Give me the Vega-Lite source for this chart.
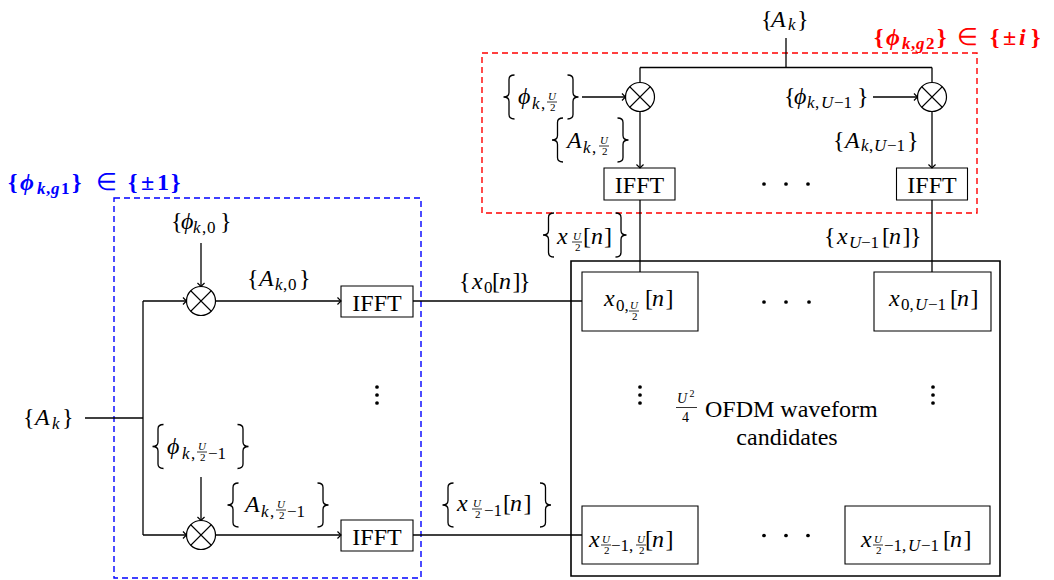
{
  "$schema": "https://vega.github.io/schema/vega-lite/v6.json",
  "width": 1054,
  "height": 580,
  "padding": 0,
  "autosize": {"type": "fit", "contains": "padding"},
  "background": "white",
  "config": {"view": {"stroke": null}, "text": {"font": "Liberation Serif"}},
  "datasets": {
    "groups": [
      {"g": "g2", "x": 482, "y": 53, "x2": 977, "y2": 213},
      {"g": "g1", "x": 114, "y": 198, "x2": 421, "y2": 578}
    ],
    "frame": [{"x": 571, "y": 261, "x2": 1000, "y2": 576}],
    "lines": [
      {"x": 786, "y": 38, "x2": 786, "y2": 67.5},
      {"x": 640, "y": 67.5, "x2": 932, "y2": 67.5},
      {"x": 640, "y": 67.5, "x2": 640, "y2": 82.5},
      {"x": 932, "y": 67.5, "x2": 932, "y2": 82.5},
      {"x": 582, "y": 97, "x2": 625.5, "y2": 97},
      {"x": 873, "y": 97, "x2": 917.5, "y2": 97},
      {"x": 640, "y": 111.5, "x2": 640, "y2": 168},
      {"x": 932, "y": 111.5, "x2": 932, "y2": 168},
      {"x": 640, "y": 200, "x2": 640, "y2": 272},
      {"x": 932, "y": 200, "x2": 932, "y2": 272},
      {"x": 85, "y": 418, "x2": 143, "y2": 418},
      {"x": 143, "y": 301, "x2": 143, "y2": 535},
      {"x": 143, "y": 301, "x2": 186.5, "y2": 301},
      {"x": 143, "y": 535, "x2": 186.5, "y2": 535},
      {"x": 201, "y": 243, "x2": 201, "y2": 286.5},
      {"x": 201, "y": 477, "x2": 201, "y2": 520.5},
      {"x": 215.5, "y": 301, "x2": 341, "y2": 301},
      {"x": 215.5, "y": 535, "x2": 341, "y2": 535},
      {"x": 413, "y": 301, "x2": 582, "y2": 301},
      {"x": 413, "y": 535, "x2": 582, "y2": 535}
    ],
    "blocks": [
      {"x": 604, "y": 168, "x2": 675, "y2": 200},
      {"x": 896.5, "y": 168, "x2": 967.5, "y2": 200},
      {"x": 341, "y": 286, "x2": 413, "y2": 317},
      {"x": 341, "y": 520, "x2": 413, "y2": 551},
      {"x": 582, "y": 272, "x2": 698, "y2": 331},
      {"x": 874, "y": 272, "x2": 991, "y2": 331},
      {"x": 582, "y": 506, "x2": 698, "y2": 564},
      {"x": 845, "y": 506, "x2": 990, "y2": 564}
    ],
    "mixers": [
      {"x": 201, "y": 301}, {"x": 201, "y": 535}, {"x": 640, "y": 97}, {"x": 932, "y": 97}
    ],
    "tipsRight": [
      {"x": 186.5, "y": 301}, {"x": 186.5, "y": 535}, {"x": 341, "y": 301},
      {"x": 341, "y": 535}, {"x": 625.5, "y": 97}, {"x": 917.5, "y": 97}
    ],
    "tipsDown": [
      {"x": 201, "y": 286.5}, {"x": 201, "y": 520.5}, {"x": 640, "y": 168}, {"x": 932, "y": 168}
    ],
    "dots": [
      {"x": 764, "y": 184}, {"x": 786, "y": 184}, {"x": 808, "y": 184},
      {"x": 764, "y": 302}, {"x": 786, "y": 302}, {"x": 809, "y": 302},
      {"x": 764, "y": 535.5}, {"x": 786, "y": 535.5}, {"x": 808, "y": 535.5},
      {"x": 377, "y": 387}, {"x": 377, "y": 395}, {"x": 377, "y": 403},
      {"x": 640, "y": 387}, {"x": 640, "y": 395}, {"x": 640, "y": 403},
      {"x": 933, "y": 387}, {"x": 933, "y": 395}, {"x": 933, "y": 403}
    ],
    "braceL": [
      {"x": 509, "y": 97}, {"x": 557.5, "y": 140}, {"x": 548.5, "y": 235},
      {"x": 158, "y": 446.5}, {"x": 233, "y": 505}, {"x": 448, "y": 505}
    ],
    "braceR": [
      {"x": 573, "y": 97}, {"x": 623, "y": 140}, {"x": 621, "y": 235},
      {"x": 243, "y": 446.5}, {"x": 323, "y": 505}, {"x": 545.5, "y": 505}
    ],
    "fracBars": [
      {"x": 547, "x2": 557, "y": 102}, {"x": 599, "x2": 609, "y": 146},
      {"x": 572, "x2": 582, "y": 242}, {"x": 629, "x2": 639, "y": 311},
      {"x": 197, "x2": 207, "y": 452}, {"x": 276, "x2": 286, "y": 510},
      {"x": 472, "x2": 482, "y": 509}, {"x": 601, "x2": 611, "y": 545},
      {"x": 636, "x2": 646, "y": 545}, {"x": 873, "x2": 883, "y": 545},
      {"x": 676, "x2": 697, "y": 407.5}
    ],
    "fracNum": [
      {"x": 548, "y": 99.5, "t": "U"}, {"x": 600, "y": 143.5, "t": "U"},
      {"x": 573, "y": 239.5, "t": "U"}, {"x": 630, "y": 308.5, "t": "U"},
      {"x": 198, "y": 449.5, "t": "U"}, {"x": 277, "y": 507.5, "t": "U"},
      {"x": 473, "y": 506.5, "t": "U"}, {"x": 602, "y": 542.5, "t": "U"},
      {"x": 637, "y": 542.5, "t": "U"}, {"x": 874, "y": 542.5, "t": "U"}
    ],
    "fracDen": [
      {"x": 550, "y": 110.5, "t": "2"}, {"x": 602, "y": 154.5, "t": "2"},
      {"x": 575, "y": 250.5, "t": "2"}, {"x": 632, "y": 319.5, "t": "2"},
      {"x": 200, "y": 460.5, "t": "2"}, {"x": 279, "y": 518.5, "t": "2"},
      {"x": 475, "y": 517.5, "t": "2"}, {"x": 604, "y": 553.5, "t": "2"},
      {"x": 639, "y": 553.5, "t": "2"}, {"x": 876, "y": 553.5, "t": "2"}
    ],
    "bigNum": [{"x": 677, "y": 403, "t": "U"}],
    "bigDen": [{"x": 682, "y": 422, "t": "4"}],
    "sup": [{"x": 689.5, "y": 397, "t": "2"}],
    "rm": [
      {"x": 761, "y": 26.5, "t": "{"}, {"x": 797, "y": 26.5, "t": "}"},
      {"x": 23, "y": 425, "t": "{"}, {"x": 62, "y": 425, "t": "}"},
      {"x": 784, "y": 104, "t": "{"}, {"x": 857, "y": 104, "t": "}"},
      {"x": 833, "y": 147.5, "t": "{"}, {"x": 907, "y": 147.5, "t": "}"},
      {"x": 824, "y": 244, "t": "{"}, {"x": 882, "y": 244, "t": "["}, {"x": 902.5, "y": 244, "t": "]"}, {"x": 910, "y": 244, "t": "}"},
      {"x": 583, "y": 244, "t": "["}, {"x": 604, "y": 244, "t": "]"},
      {"x": 459, "y": 289, "t": "{"}, {"x": 492, "y": 289, "t": "["}, {"x": 512.5, "y": 289, "t": "]"}, {"x": 519, "y": 289, "t": "}"},
      {"x": 645, "y": 306, "t": "["}, {"x": 665.5, "y": 306, "t": "]"},
      {"x": 950, "y": 306, "t": "["}, {"x": 970.5, "y": 306, "t": "]"},
      {"x": 645, "y": 547, "t": "["}, {"x": 665.5, "y": 547, "t": "]"},
      {"x": 943, "y": 547, "t": "["}, {"x": 963.5, "y": 547, "t": "]"},
      {"x": 171, "y": 229, "t": "{"}, {"x": 220, "y": 229, "t": "}"},
      {"x": 247, "y": 286, "t": "{"}, {"x": 299, "y": 286, "t": "}"},
      {"x": 503, "y": 511, "t": "["}, {"x": 523.5, "y": 511, "t": "]"},
      {"x": 705, "y": 416.5, "t": "OFDM waveform"}
    ],
    "it": [
      {"x": 771, "y": 26.5, "t": "A"},
      {"x": 35, "y": 425, "t": "A"},
      {"x": 518, "y": 104, "t": "ϕ"},
      {"x": 567, "y": 148, "t": "A"},
      {"x": 794, "y": 104, "t": "ϕ"},
      {"x": 845, "y": 147.5, "t": "A"},
      {"x": 557, "y": 244, "t": "x"}, {"x": 591, "y": 244, "t": "n"},
      {"x": 837, "y": 244, "t": "x"}, {"x": 889, "y": 244, "t": "n"},
      {"x": 472, "y": 289, "t": "x"}, {"x": 499, "y": 289, "t": "n"},
      {"x": 604, "y": 306, "t": "x"}, {"x": 652, "y": 306, "t": "n"},
      {"x": 889, "y": 306, "t": "x"}, {"x": 957, "y": 306, "t": "n"},
      {"x": 589, "y": 547, "t": "x"}, {"x": 652, "y": 547, "t": "n"},
      {"x": 861, "y": 547, "t": "x"}, {"x": 950, "y": 547, "t": "n"},
      {"x": 181, "y": 229, "t": "ϕ"},
      {"x": 259, "y": 286, "t": "A"},
      {"x": 167, "y": 454, "t": "ϕ"},
      {"x": 245, "y": 512, "t": "A"},
      {"x": 457, "y": 511, "t": "x"}, {"x": 510, "y": 511, "t": "n"}
    ],
    "subIt": [
      {"x": 788, "y": 30, "t": "k"},
      {"x": 52, "y": 428.5, "t": "k"},
      {"x": 532, "y": 109, "t": "k"},
      {"x": 583, "y": 153, "t": "k"},
      {"x": 807, "y": 107.5, "t": "k"}, {"x": 821, "y": 107.5, "t": "U"},
      {"x": 861, "y": 151, "t": "k"}, {"x": 874, "y": 151, "t": "U"},
      {"x": 849, "y": 247.5, "t": "U"},
      {"x": 915, "y": 310, "t": "U"},
      {"x": 908, "y": 550.5, "t": "U"},
      {"x": 193, "y": 232.5, "t": "k"},
      {"x": 275, "y": 289.5, "t": "k"},
      {"x": 182, "y": 459, "t": "k"},
      {"x": 261, "y": 517, "t": "k"}
    ],
    "subRm": [
      {"x": 541, "y": 109, "t": ","},
      {"x": 592, "y": 153, "t": ","},
      {"x": 815, "y": 107.5, "t": ","}, {"x": 834, "y": 107.5, "t": "−1"},
      {"x": 869, "y": 151, "t": ","}, {"x": 887, "y": 151, "t": "−1"},
      {"x": 861, "y": 247.5, "t": "−1"},
      {"x": 616, "y": 311, "t": "0,"},
      {"x": 901, "y": 310, "t": "0,"}, {"x": 928, "y": 310, "t": "−1"},
      {"x": 611, "y": 550.5, "t": "−1,"},
      {"x": 884, "y": 550.5, "t": "−1,"}, {"x": 921, "y": 550.5, "t": "−1"},
      {"x": 202, "y": 232.5, "t": ","}, {"x": 207, "y": 232.5, "t": "0"},
      {"x": 283, "y": 289.5, "t": ","}, {"x": 288, "y": 289.5, "t": "0"},
      {"x": 484, "y": 292.5, "t": "0"},
      {"x": 191, "y": 459, "t": ","}, {"x": 208, "y": 459, "t": "−1"},
      {"x": 270, "y": 517, "t": ","}, {"x": 287, "y": 517, "t": "−1"},
      {"x": 484, "y": 516, "t": "−1"}
    ],
    "centered": [
      {"x": 639.5, "y": 192.5, "t": "IFFT"},
      {"x": 932, "y": 192.5, "t": "IFFT"},
      {"x": 377, "y": 310.5, "t": "IFFT"},
      {"x": 377, "y": 544.5, "t": "IFFT"},
      {"x": 787, "y": 445, "t": "candidates"}
    ],
    "boldRm": [
      {"g": "g2", "x": 874, "y": 45, "t": "{"}, {"g": "g2", "x": 937, "y": 45, "t": "}"},
      {"g": "g2", "x": 990, "y": 45, "t": "{"}, {"g": "g2", "x": 1003, "y": 45, "t": "±"},
      {"g": "g2", "x": 1031, "y": 45, "t": "}"},
      {"g": "g1", "x": 8, "y": 190, "t": "{"}, {"g": "g1", "x": 72, "y": 190, "t": "}"},
      {"g": "g1", "x": 128, "y": 190, "t": "{"}, {"g": "g1", "x": 141, "y": 190, "t": "±"},
      {"g": "g1", "x": 157, "y": 190, "t": "1"}, {"g": "g1", "x": 171, "y": 190, "t": "}"}
    ],
    "boldIt": [
      {"g": "g2", "x": 886, "y": 45, "t": "ϕ"}, {"g": "g2", "x": 1019, "y": 45, "t": "i"},
      {"g": "g1", "x": 20, "y": 190, "t": "ϕ"}
    ],
    "boldSubIt": [
      {"g": "g2", "x": 902, "y": 49, "t": "k"}, {"g": "g2", "x": 916, "y": 49, "t": "g"},
      {"g": "g1", "x": 37, "y": 194, "t": "k"}, {"g": "g1", "x": 51, "y": 194, "t": "g"}
    ],
    "boldSubRm": [
      {"g": "g2", "x": 911, "y": 49, "t": ","}, {"g": "g2", "x": 926, "y": 49, "t": "2"},
      {"g": "g1", "x": 46, "y": 194, "t": ","}, {"g": "g1", "x": 61, "y": 194, "t": "1"}
    ],
    "relation": [
      {"g": "g2", "x": 957, "y": 45, "t": "∈"},
      {"g": "g1", "x": 96, "y": 190, "t": "∈"}
    ]
  },
  "encoding": {
    "x": {"field": "x", "type": "quantitative", "scale": {"domain": [0, 1054], "nice": false, "zero": false}, "axis": null},
    "y": {"field": "y", "type": "quantitative", "scale": {"domain": [0, 580], "nice": false, "zero": false, "reverse": true}, "axis": null}
  },
  "layer": [
    {
      "data": {"name": "groups"},
      "mark": {"type": "rect", "filled": false, "strokeDash": [6, 4], "strokeWidth": 1.4},
      "encoding": {
        "x2": {"field": "x2"}, "y2": {"field": "y2"},
        "color": {"field": "g", "type": "nominal", "scale": {"domain": ["g1", "g2"], "range": ["#0000ff", "#ff0000"]}, "legend": null}
      }
    },
    {
      "data": {"name": "frame"},
      "mark": {"type": "rect", "fill": "white", "stroke": "black", "strokeWidth": 1.6},
      "encoding": {"x2": {"field": "x2"}, "y2": {"field": "y2"}}
    },
    {
      "data": {"name": "lines"},
      "mark": {"type": "rule", "color": "black", "strokeWidth": 1.3},
      "encoding": {"x2": {"field": "x2"}, "y2": {"field": "y2"}}
    },
    {
      "data": {"name": "blocks"},
      "mark": {"type": "rect", "fill": "white", "stroke": "black", "strokeWidth": 1.1},
      "encoding": {"x2": {"field": "x2"}, "y2": {"field": "y2"}}
    },
    {
      "data": {"name": "mixers"},
      "mark": {"type": "point", "shape": "circle", "size": 841, "filled": true, "fill": "white", "stroke": "black", "strokeWidth": 1.2, "opacity": 1},
      "encoding": {}
    },
    {
      "data": {"name": "mixers"},
      "mark": {"type": "point", "shape": "M-0.7071,-0.7071L0.7071,0.7071M-0.7071,0.7071L0.7071,-0.7071", "size": 841, "filled": false, "stroke": "black", "strokeWidth": 1.1, "opacity": 1},
      "encoding": {}
    },
    {
      "data": {"name": "tipsRight"},
      "mark": {"type": "point", "shape": "M-1,-1L0,0L-1,1", "size": 50, "filled": false, "stroke": "black", "strokeWidth": 1.2, "opacity": 1},
      "encoding": {}
    },
    {
      "data": {"name": "tipsDown"},
      "mark": {"type": "point", "shape": "M-1,-1L0,0L-1,1", "angle": 90, "size": 50, "filled": false, "stroke": "black", "strokeWidth": 1.2, "opacity": 1},
      "encoding": {}
    },
    {
      "data": {"name": "dots"},
      "mark": {"type": "point", "shape": "circle", "size": 14, "filled": true, "color": "black", "opacity": 1},
      "encoding": {}
    },
    {
      "data": {"name": "braceL"},
      "mark": {"type": "point", "shape": "M0.25,-1C0.08,-1,0,-0.95,0,-0.8L0,-0.2C0,-0.07,-0.08,0,-0.25,0C-0.08,0,0,0.07,0,0.2L0,0.8C0,0.95,0.08,1,0.25,1", "size": 1936, "filled": false, "stroke": "black", "strokeWidth": 1.3, "opacity": 1},
      "encoding": {}
    },
    {
      "data": {"name": "braceR"},
      "mark": {"type": "point", "shape": "M-0.25,-1C-0.08,-1,0,-0.95,0,-0.8L0,-0.2C0,-0.07,0.08,0,0.25,0C0.08,0,0,0.07,0,0.2L0,0.8C0,0.95,-0.08,1,-0.25,1", "size": 1936, "filled": false, "stroke": "black", "strokeWidth": 1.3, "opacity": 1},
      "encoding": {}
    },
    {
      "data": {"name": "fracBars"},
      "mark": {"type": "rule", "color": "black", "strokeWidth": 0.8},
      "encoding": {"x2": {"field": "x2"}}
    },
    {
      "data": {"name": "fracNum"},
      "mark": {"type": "text", "font": "Liberation Serif", "fontSize": 11, "fontStyle": "italic", "align": "left", "baseline": "alphabetic", "color": "black"},
      "encoding": {"text": {"field": "t"}}
    },
    {
      "data": {"name": "fracDen"},
      "mark": {"type": "text", "font": "Liberation Serif", "fontSize": 11, "align": "left", "baseline": "alphabetic", "color": "black"},
      "encoding": {"text": {"field": "t"}}
    },
    {
      "data": {"name": "bigNum"},
      "mark": {"type": "text", "font": "Liberation Serif", "fontSize": 14, "fontStyle": "italic", "align": "left", "baseline": "alphabetic", "color": "black"},
      "encoding": {"text": {"field": "t"}}
    },
    {
      "data": {"name": "bigDen"},
      "mark": {"type": "text", "font": "Liberation Serif", "fontSize": 14, "align": "left", "baseline": "alphabetic", "color": "black"},
      "encoding": {"text": {"field": "t"}}
    },
    {
      "data": {"name": "sup"},
      "mark": {"type": "text", "font": "Liberation Serif", "fontSize": 10, "align": "left", "baseline": "alphabetic", "color": "black"},
      "encoding": {"text": {"field": "t"}}
    },
    {
      "data": {"name": "rm"},
      "mark": {"type": "text", "font": "Liberation Serif", "fontSize": 24, "align": "left", "baseline": "alphabetic", "color": "black"},
      "encoding": {"text": {"field": "t"}}
    },
    {
      "data": {"name": "it"},
      "mark": {"type": "text", "font": "Liberation Serif", "fontSize": 24, "fontStyle": "italic", "align": "left", "baseline": "alphabetic", "color": "black"},
      "encoding": {"text": {"field": "t"}}
    },
    {
      "data": {"name": "subIt"},
      "mark": {"type": "text", "font": "Liberation Serif", "fontSize": 17, "fontStyle": "italic", "align": "left", "baseline": "alphabetic", "color": "black"},
      "encoding": {"text": {"field": "t"}}
    },
    {
      "data": {"name": "subRm"},
      "mark": {"type": "text", "font": "Liberation Serif", "fontSize": 17, "align": "left", "baseline": "alphabetic", "color": "black"},
      "encoding": {"text": {"field": "t"}}
    },
    {
      "data": {"name": "centered"},
      "mark": {"type": "text", "font": "Liberation Serif", "fontSize": 24, "align": "center", "baseline": "alphabetic", "color": "black"},
      "encoding": {"text": {"field": "t"}}
    },
    {
      "data": {"name": "boldRm"},
      "mark": {"type": "text", "font": "Liberation Serif", "fontSize": 24, "fontWeight": "bold", "align": "left", "baseline": "alphabetic"},
      "encoding": {"text": {"field": "t"}, "color": {"field": "g", "type": "nominal", "scale": {"domain": ["g1", "g2"], "range": ["#0000ff", "#ff0000"]}, "legend": null}}
    },
    {
      "data": {"name": "boldIt"},
      "mark": {"type": "text", "font": "Liberation Serif", "fontSize": 24, "fontWeight": "bold", "fontStyle": "italic", "align": "left", "baseline": "alphabetic"},
      "encoding": {"text": {"field": "t"}, "color": {"field": "g", "type": "nominal", "scale": {"domain": ["g1", "g2"], "range": ["#0000ff", "#ff0000"]}, "legend": null}}
    },
    {
      "data": {"name": "boldSubIt"},
      "mark": {"type": "text", "font": "Liberation Serif", "fontSize": 17, "fontWeight": "bold", "fontStyle": "italic", "align": "left", "baseline": "alphabetic"},
      "encoding": {"text": {"field": "t"}, "color": {"field": "g", "type": "nominal", "scale": {"domain": ["g1", "g2"], "range": ["#0000ff", "#ff0000"]}, "legend": null}}
    },
    {
      "data": {"name": "boldSubRm"},
      "mark": {"type": "text", "font": "Liberation Serif", "fontSize": 17, "fontWeight": "bold", "align": "left", "baseline": "alphabetic"},
      "encoding": {"text": {"field": "t"}, "color": {"field": "g", "type": "nominal", "scale": {"domain": ["g1", "g2"], "range": ["#0000ff", "#ff0000"]}, "legend": null}}
    },
    {
      "data": {"name": "relation"},
      "mark": {"type": "text", "font": "Liberation Serif", "fontSize": 24, "align": "left", "baseline": "alphabetic"},
      "encoding": {"text": {"field": "t"}, "color": {"field": "g", "type": "nominal", "scale": {"domain": ["g1", "g2"], "range": ["#0000ff", "#ff0000"]}, "legend": null}}
    }
  ]
}
